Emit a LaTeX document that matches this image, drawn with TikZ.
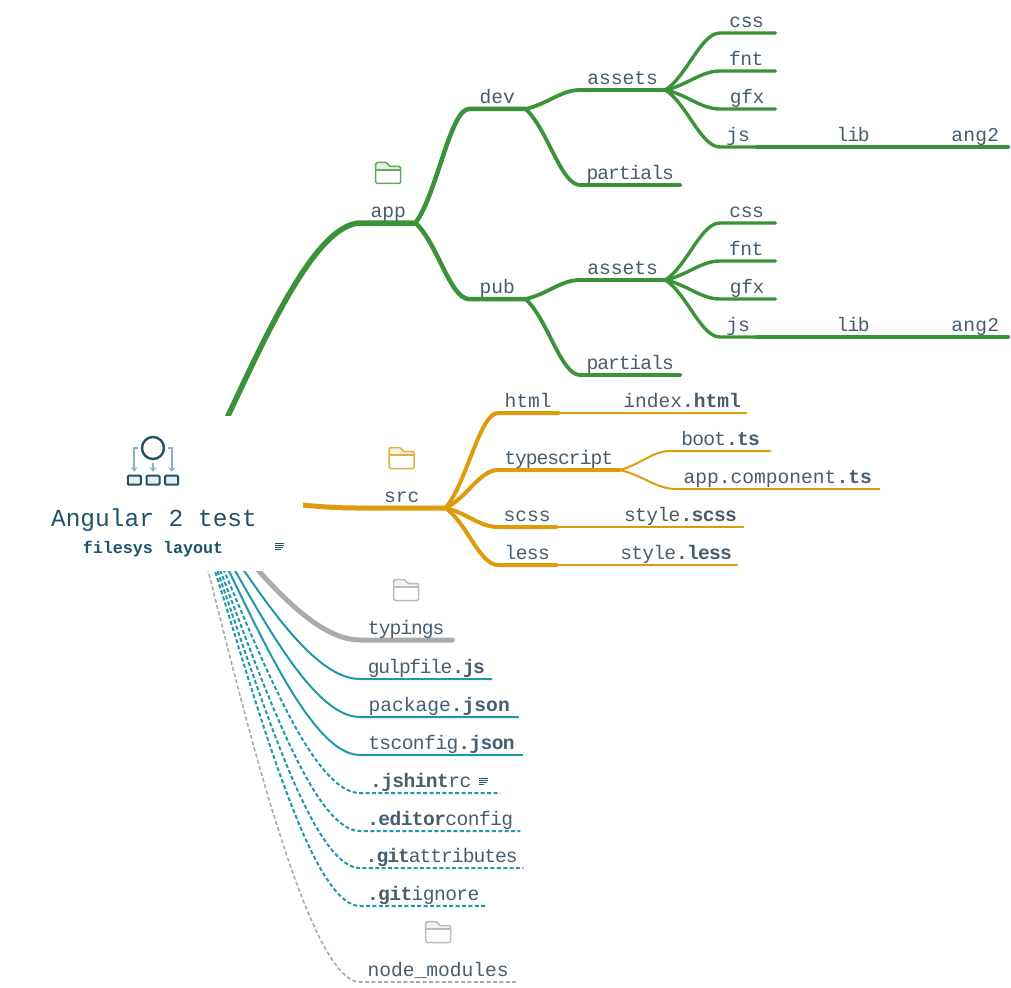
\documentclass[tikz,border=0pt]{standalone}
\usepackage{fontspec}
\setmainfont{Liberation Mono}
\usetikzlibrary{calc,arrows.meta,backgrounds}
\definecolor{leafgreen}{HTML}{3A9338}
\definecolor{amber}{HTML}{DC9C0C}
\definecolor{lagoon}{HTML}{2098AB}
\definecolor{ash}{HTML}{ABABAB}
\definecolor{slate}{HTML}{475C6D}
\definecolor{deepsea}{HTML}{1D5468}
\definecolor{haze}{HTML}{8FB0C0}
\newcommand{\labelfont}{\fontsize{19.6}{22}\selectfont}
\tikzset{
    x=1pt, y=-1pt,
    topic/.style={anchor=south west, inner xsep=0pt, inner ysep=0pt, text height=15pt, text depth=5pt,
        text=slate, font=\labelfont},
    pitch/.style={font=\labelfont\addfontfeature{LetterSpace=#1}},
    bough/.style={to path={let \p1=(\tikztostart), \p2=(\tikztotarget) in
        .. controls (\x1+#1*\x2-#1*\x1, \y1+0.25*\y2-0.25*\y1) and (\x1+0.65*\x2-0.65*\x1, \y2) .. (\tikztotarget)}},
    bough/.default=0.4,
    limb/.style={line cap=round, line width=#1},
    greenlimb/.style={limb=#1, draw=leafgreen},
    amberlimb/.style={limb=#1, draw=amber},
    tealline/.style={limb=2pt, draw=lagoon},
    tealdash/.style={line width=2pt, draw=lagoon, dash pattern=on 4pt off 2.4pt},
    pics/folder/.style={code={
        \fill[#1!14] (-12,-10) -- (-1,-10) -- (1,-6.5) -- (12,-6.5) -- (12,-3) -- (-12,-3) -- cycle;
        \draw[#1!80!white, line width=1.5pt, rounded corners=1.5pt] (-12.5,-10.5) -- (-1,-10.5) -- (1,-6.5) -- (12.5,-6.5)
            -- (12.5,10.5) -- (-12.5,10.5) -- cycle;
        \draw[#1!80!white, line width=1.2pt] (-12.5,-3) -- (12.5,-3);
    }},
    pics/noteicon/.style={code={
        \foreach \y/\len in {-3/9,-1/9,1/8,3/5.5}
            \draw[deepsea, line width=0.8pt] (-4.5,\y) -- (-4.5+\len,\y);
    }},
    iconbox/.style={draw=deepsea, fill=deepsea!10, line width=2pt, rounded corners=1pt, minimum width=13pt,
        minimum height=9pt, inner sep=0pt},
    feed/.style={draw=haze, line width=2.2pt, -{Stealth[length=4.5pt,width=7pt]}},
}
\begin{document}
\begin{tikzpicture}
    \useasboundingbox (0,0) rectangle (1011,987);

    \node[fill=white, inner sep=0pt, minimum width=230pt, minimum height=155pt] (root) at (188,493.5) {};

    \node[topic, minimum width=54pt] (app) at (361,223) {app};
    \foreach \sub/\mid/\dy in {a/dev/0,b/pub/190} {
        \node[topic, minimum width=56pt] (\sub-mid) at (469,109+\dy) {\mid};
        \node[topic, minimum width=85pt] (\sub-assets) at (580,90+\dy) {assets};
        \node[topic, pitch=-5, minimum width=100pt] (\sub-partials) at (580,185+\dy) {partials};
        \node[topic, pitch=-2, minimum width=53pt] (\sub-css) at (720,33+\dy) {css};
        \path (\sub-css.south east) ++(2,0) coordinate (\sub-csstip);
        \node[topic, pitch=-3, minimum width=52pt] (\sub-fnt) at (720,71+\dy) {fnt};
        \path (\sub-fnt.south east) ++(3,0) coordinate (\sub-fnttip);
        \node[topic, pitch=-2, minimum width=54pt] (\sub-gfx) at (720,109+\dy) {gfx};
        \path (\sub-gfx.south east) ++(1,0) coordinate (\sub-gfxtip);
        \node[topic, minimum width=36pt] (\sub-js) at (720,147+\dy) {js};
        \node[topic, pitch=-6, minimum width=44pt] (\sub-lib) at (831,147+\dy) {lib};
        \node[topic, pitch=1, minimum width=66pt] (\sub-ang) at (942,147+\dy) {ang2};
        \foreach \from/\to/\wd in {mid/assets/3.8pt,mid/partials/3.8pt,assets/js/3.4pt,js/lib/3.4pt,lib/ang/3.4pt}
            \draw[greenlimb=\wd] (\sub-\from.south east) to[bough] (\sub-\to.south west) -- (\sub-\to.south east);
        \foreach \to in {css,fnt,gfx}
            \draw[greenlimb=3.4pt] (\sub-assets.south east) to[bough] (\sub-\to.south west) -- (\sub-\to tip);
        \draw[greenlimb=4.5pt] (app.south east) to[bough] (\sub-mid.south west) -- (\sub-mid.south east);
    }

    \node[topic, minimum width=87pt] (src) at (358,508) {src};
    \node[topic, minimum width=60pt] (html) at (498,413) {html};
    \node[topic, pitch=-5, minimum width=121pt] (typescript) at (498,470) {typescript};
    \node[topic, minimum width=58pt] (scss) at (498,527) {scss};
    \node[topic, pitch=-3, minimum width=58pt] (less) at (498,565) {less};
    \node[topic, minimum width=128pt] (indexhtml) at (618,413) {index\textbf{.html}};
    \node[topic, pitch=-4, minimum width=100pt] (bootts) at (670,451) {boot\textbf{.ts}};
    \node[topic, minimum width=203pt] (appcomp) at (676,489) {app.component\textbf{.ts}};
    \node[topic, pitch=-3, minimum width=126pt] (stylescss) at (617,527) {style\textbf{.scss}};
    \node[topic, pitch=-4, minimum width=123pt] (styleless) at (614,565) {style\textbf{.less}};
    \foreach \from/\to/\wd in {src/html/4pt,src/typescript/4pt,src/scss/4pt,src/less/4pt,html/indexhtml/2pt,
        typescript/bootts/2pt,typescript/appcomp/2pt,scss/stylescss/2pt,less/styleless/2pt}
        \draw[amberlimb=\wd] (\from.south east) to[bough] (\to.south west) -- (\to.south east);

    \node[topic, pitch=-5, minimum width=92pt] (typings) at (360,640) {typings};
    \node[topic, pitch=-7, minimum width=131pt] (gulpfile) at (360,679) {gulpfile\textbf{.js}};
    \node[topic, minimum width=158pt] (package) at (360,717) {package\textbf{.json}};
    \node[topic, pitch=-3, minimum width=162pt] (tsconfig) at (360,755) {tsconfig\textbf{.json}};
    \node[topic, pitch=-3, minimum width=140pt] (jshint) at (360,793) {\textbf{.jshint}rc\kern19pt};
    \node[topic, pitch=-3, minimum width=160pt] (editorconfig) at (360,831) {\textbf{.editor}config};
    \node[topic, pitch=-5, minimum width=163pt] (gitattr) at (360,868) {\textbf{.git}attributes};
    \node[topic, pitch=-3, minimum width=126pt] (gitignore) at (360,906) {\textbf{.git}ignore};
    \node[topic, minimum width=156pt] (nodemodules) at (360,982) {node\_modules};

    \begin{scope}[on background layer]
        \draw[greenlimb=5.5pt] (root.center) to[bough=0.25] (app.south west) -- (app.south east);
        \draw[amberlimb=5pt] (root.center) to[bough=0.4] (src.south west) -- (src.south east);
        \draw[limb=5pt, draw=ash] (root.center) to[bough=0.25] (typings.south west) -- (typings.south east);
        \foreach \to in {gulpfile,package,tsconfig}
            \draw[tealline] (root.center) to[bough=0.25] (\to.south west) -- (\to.south east);
        \foreach \to in {jshint,editorconfig,gitattr,gitignore}
            \draw[tealdash] (root.center) to[bough=0.25] (\to.south west) -- (\to.south east);
        \draw[line width=1.6pt, draw=ash, dash pattern=on 4pt off 2.4pt] (root.center) to[bough=0.2] (nodemodules.south west) -- (nodemodules.south east);
    \end{scope}

    \foreach \nm/\col in {app/leafgreen,src/amber,typings/ash,nodemodules/ash}
        \pic at ([yshift=50pt]\nm.south) {folder=\col};

    \node[text=deepsea, font=\fontsize{24.5}{28}\selectfont, anchor=base, inner sep=0pt] (title) at (154,526) {Angular 2 test};
    \node[text=deepsea, font=\fontsize{16.7}{20}\selectfont\bfseries, anchor=base, inner sep=0pt] (subtitle) at (153,553) {filesys layout};
    \pic at ([xshift=56.5pt,yshift=2pt]subtitle.east) {noteicon};
    \pic at ([xshift=-17pt,yshift=12pt]jshint.south east) {noteicon};

    \node[draw=deepsea, line width=2.4pt, circle, minimum size=22pt, inner sep=0pt] (orb) at (153,448) {};
    \node[iconbox] (boxa) at (134.3,480.2) {};
    \node[iconbox] (boxb) at (153,480.2) {};
    \node[iconbox] (boxc) at (171.7,480.2) {};
    \draw[feed] ([xshift=-3pt]orb.west) -| ([yshift=3pt]boxa.north);
    \draw[feed] ([yshift=-3pt]orb.south) -- ([yshift=3pt]boxb.north);
    \draw[feed] ([xshift=3pt]orb.east) -| ([yshift=3pt]boxc.north);
\end{tikzpicture}
\end{document}
